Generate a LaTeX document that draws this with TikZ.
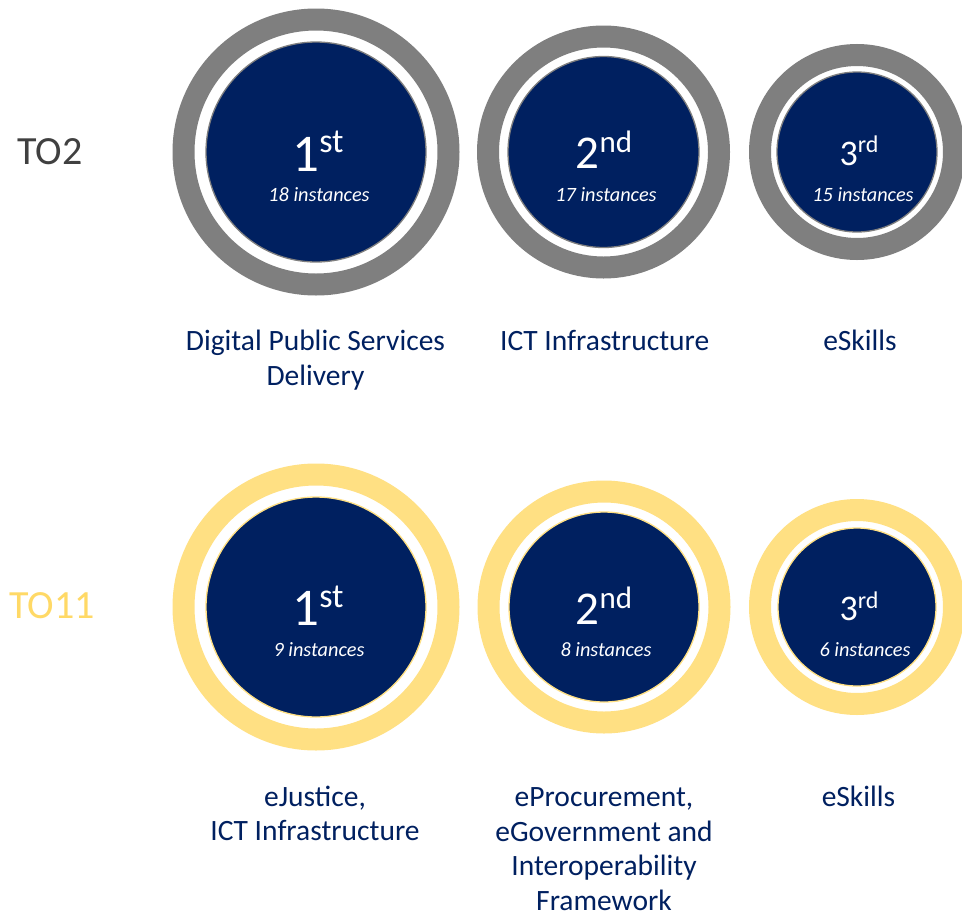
\documentclass[tikz,border=0pt]{standalone}
\usepackage{fontspec}
\setmainfont{Carlito}
\definecolor{navy}{HTML}{002060}
\definecolor{ringgray}{HTML}{7F7F7F}
\definecolor{ringgold}{HTML}{FFE083}
\definecolor{goldtext}{HTML}{FFD966}
\definecolor{totext}{HTML}{404040}
\newcommand\rankt[4]{\fontsize{#3}{#3}\selectfont #1\raisebox{0.34em}{\fontsize{#4}{#4}\selectfont #2}}
\begin{document}
\begin{tikzpicture}[x=1pt,y=-1pt,
  ring/.style={circle, draw=#1, line width=22pt, inner sep=0pt, outer sep=0pt},
  disc/.style={circle, fill=navy, draw=#1, line width=1.3pt, inner sep=0pt},
  rank/.style={anchor=base, text=white, inner sep=0pt},
  inst/.style={anchor=base, text=white, inner sep=0pt, font=\fontsize{20.3}{20.3}\selectfont\itshape},
  lbl/.style={anchor=base, align=center, text=navy, inner sep=0pt, font=\fontsize{29.5}{34.5}\selectfont},
  rowlbl/.style={anchor=base west, inner sep=0pt, font=\fontsize{40}{40}\selectfont}]
\useasboundingbox (0,0) rectangle (962,916);
\fill[white] (0,0) rectangle (962,916);

% row labels
\node[rowlbl, text=totext] (to2) at (17,164.3) {TO2};
\node[rowlbl, text=goldtext] (to11) at (9,618.3) {TO11};

% top row
\node[ring=ringgray, minimum size=265pt] (ra1) at (316,152) {};
\node[disc=ringgray, minimum size=220pt] (da1) at (316,152) {};
\node[ring=ringgray, minimum size=231pt] (ra2) at (603.5,152) {};
\node[disc=ringgray, minimum size=191pt] (da2) at (603.5,152) {};
\node[ring=ringgray, minimum size=194pt] (ra3) at (857,152) {};
\node[disc=ringgray, minimum size=160pt] (da3) at (857,152) {};

\node[rank] (ka1) at (318,171) {\rankt{1}{st}{53}{34}};
\node[rank] (ka2) at (604,168.3) {\rankt{2}{nd}{47}{31}};
\node[rank] (ka3) at (859,165) {\rankt{3}{rd}{36}{24}};
\node[inst] (ia1) at (319,201.7) {18 instances};
\node[inst] (ia2) at (606,201.7) {17 instances};
\node[inst] (ia3) at (863,201.7) {15 instances};

% labels: anchor=base is the baseline of the last line
\node[lbl] (la1) at (315.5,385) {Digital Public Services\\Delivery};
\node[lbl] (la2) at (604.7,350) {ICT Infrastructure};
\node[lbl] (la3) at (860,350) {eSkills};

% bottom row
\node[ring=ringgold, minimum size=265pt] (rb1) at (316,607) {};
\node[disc=ringgold, minimum size=220pt] (db1) at (316,607) {};
\node[ring=ringgold, minimum size=231pt] (rb2) at (604,607) {};
\node[disc=ringgold, minimum size=190pt] (db2) at (604,607) {};
\node[ring=ringgold, minimum size=194pt] (rb3) at (857,607) {};
\node[disc=ringgold, minimum size=158pt] (db3) at (857,607) {};

\node[rank] (kb1) at (318,625.7) {\rankt{1}{st}{53}{34}};
\node[rank] (kb2) at (604,624.3) {\rankt{2}{nd}{47}{31}};
\node[rank] (kb3) at (859,620.5) {\rankt{3}{rd}{36}{24}};
\node[inst] (ib1) at (319,656.5) {9 instances};
\node[inst] (ib2) at (606,656.5) {8 instances};
\node[inst] (ib3) at (865,656.5) {6 instances};

\node[lbl] (lb1) at (315,840.5) {eJustice,\\ICT Infrastructure};
\node[lbl] (lb2) at (604,910) {eProcurement,\\eGovernment and\\Interoperability\\Framework};
\node[lbl] (lb3) at (858.5,806.7) {eSkills};
\end{tikzpicture}
\end{document}
